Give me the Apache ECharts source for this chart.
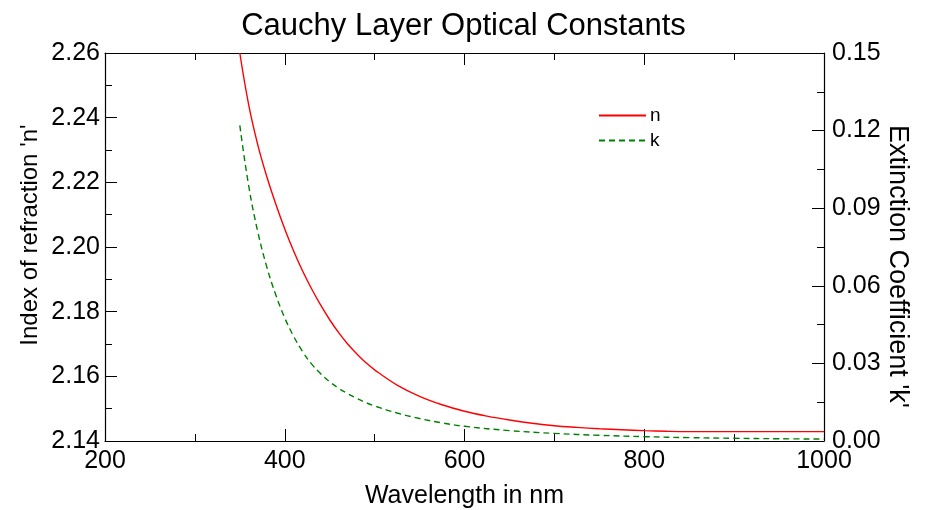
<!DOCTYPE html>
<html>
<head>
<meta charset="utf-8">
<script src="https://cdn.jsdelivr.net/npm/echarts@6/dist/echarts.min.js"></script>
<style>html,body{margin:0;padding:0;background:#fff}#c{width:927px;height:510px}</style>
</head>
<body>
<div id="c"></div>
<script>
var wavelengthN = [350,360,370,380,390,400,410,420,430,440,450,460,470,480,490,500,525,550,575,600,625,650,675,700,725,750,775,800,825,850,900,950,1000];
var nValues = [2.2600,2.2438,2.2316,2.2218,2.2133,2.2056,2.1987,2.1925,2.1870,2.1820,2.1775,2.1735,2.1700,2.1670,2.1643,2.1620,2.1573,2.1538,2.1512,2.1492,2.1477,2.1465,2.1455,2.1447,2.1442,2.1438,2.1435,2.1432,2.1430,2.1429,2.1429,2.1429,2.1429];
var wavelengthK = [350,360,370,380,390,400,410,420,430,440,450,460,470,480,490,500,525,550,575,600,650,700,750,800,850,900,950,1000];
var kValues = [0.1220,0.0984,0.0809,0.0673,0.0565,0.0476,0.0404,0.0345,0.0297,0.0260,0.0229,0.0204,0.0183,0.0165,0.0149,0.01355,0.01083,0.00869,0.00701,0.00569,0.00401,0.00294,0.00220,0.00167,0.00130,0.00104,0.00087,0.00075];

var FONT = 'Liberation Sans';
var chart = echarts.init(document.getElementById('c'), null, {renderer:'canvas'});
var axisLineStyle = {color:'#000', width:1.2};
function pairs(xs, ys){ return xs.map(function(x,i){return [x, ys[i]];}); }

chart.setOption({
  animation:false,
  backgroundColor:'#fff',
  textStyle:{fontFamily:FONT},
  title:{text:'Cauchy Layer Optical Constants', left:'center', top:6,
    textStyle:{fontFamily:FONT, fontSize:31, fontWeight:'normal', color:'#000'}},
  grid:{left:105, right:103, top:53, bottom:69, containLabel:false, outerBoundsMode:'none'},
  legend:{orient:'vertical', left:598, top:106, padding:0, itemWidth:47, itemHeight:14, itemGap:6,
    itemStyle:{opacity:0},
    textStyle:{fontFamily:FONT, fontSize:19, color:'#000', padding:[0,0,0,-1]},
    data:['n','k']},
  xAxis:[
    {type:'value', min:200, max:1000, interval:200, position:'bottom',
     name:'Wavelength in nm', nameLocation:'middle', nameGap:43, nameMoveOverlap:false,
     nameTextStyle:{fontFamily:FONT, fontSize:25, color:'#000'},
     axisLine:{lineStyle:axisLineStyle},
     axisTick:{inside:true, length:12, lineStyle:{color:'#000'}},
     minorTick:{show:true, splitNumber:2, length:7, lineStyle:{color:'#000'}},
     axisLabel:{fontFamily:FONT, fontSize:25, color:'#000', margin:8,
       formatter:function(v){return String(v);}},
     splitLine:{show:false}},
    {type:'value', min:200, max:1000, interval:200, position:'top',
     axisLine:{lineStyle:axisLineStyle},
     axisTick:{inside:true, length:12, lineStyle:{color:'#000'}},
     minorTick:{show:true, splitNumber:2, length:7, lineStyle:{color:'#000'}},
     axisLabel:{show:false}, splitLine:{show:false}}
  ],
  yAxis:[
    {type:'value', min:2.14, max:2.26, interval:0.02, position:'left',
     name:"Index of refraction 'n'", nameLocation:'middle', nameGap:63, nameMoveOverlap:false,
     nameTextStyle:{fontFamily:FONT, fontSize:24, color:'#000', padding:[0,0,0,24]},
     axisLine:{show:true, lineStyle:axisLineStyle},
     axisTick:{show:true, inside:true, length:12, lineStyle:{color:'#000'}},
     minorTick:{show:true, splitNumber:2, length:7, lineStyle:{color:'#000'}},
     axisLabel:{fontFamily:FONT, fontSize:25, color:'#000', margin:5,
       formatter:function(v){return v.toFixed(2);}},
     splitLine:{show:false}},
    {type:'value', min:0, max:0.15, interval:0.03, position:'right',
     name:"Extinction Coefficient 'k'", nameLocation:'middle', nameGap:60, nameRotate:-90, nameMoveOverlap:false,
     nameTextStyle:{fontFamily:FONT, fontSize:27, color:'#000', padding:[0,0,0,39]},
     axisLine:{show:true, lineStyle:axisLineStyle},
     axisTick:{show:true, inside:true, length:12, lineStyle:{color:'#000'}},
     minorTick:{show:true, splitNumber:2, length:7, lineStyle:{color:'#000'}},
     axisLabel:{fontFamily:FONT, fontSize:25, color:'#000', margin:8,
       formatter:function(v){return v.toFixed(2);}},
     splitLine:{show:false}}
  ],
  series:[
    {name:'n', type:'line', xAxisIndex:0, yAxisIndex:0, smooth:0.4, showSymbol:false, symbol:'none',
     lineStyle:{color:'#ff0000', width:1.4}, itemStyle:{color:'#ff0000'},
     data:pairs(wavelengthN, nValues)},
    {name:'k', type:'line', xAxisIndex:0, yAxisIndex:1, smooth:0.4, showSymbol:false, symbol:'none',
     lineStyle:{color:'#008000', width:1.4, type:[6,4]}, itemStyle:{color:'#008000'},
     data:pairs(wavelengthK, kValues)}
  ]
});
</script>
</body>
</html>
